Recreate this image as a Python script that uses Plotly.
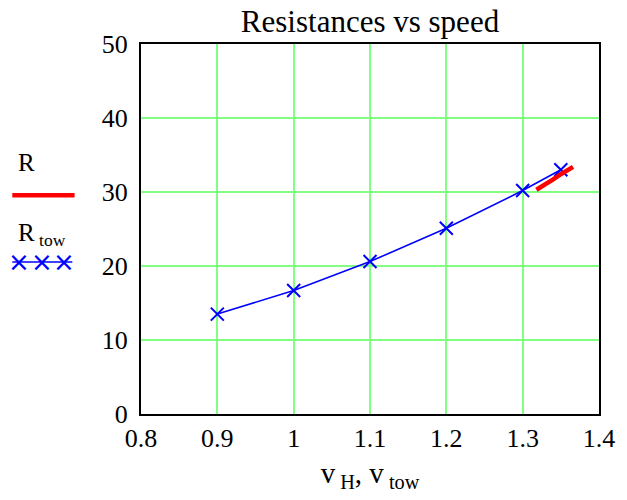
import plotly.graph_objects as go

v_tow = [0.9, 1.0, 1.1, 1.2, 1.3, 1.35]
R_tow = [13.5, 16.7, 20.6, 25.1, 30.2, 33.0]
v_H = [1.318, 1.33, 1.34, 1.35, 1.36, 1.366]
R = [30.3, 31.0, 31.7, 32.4, 33.0, 33.4]

x_ticks = [0.8, 0.9, 1.0, 1.1, 1.2, 1.3, 1.4]
x_labels = ["0.8", "0.9", "1", "1.1", "1.2", "1.3", "1.4"]
y_ticks = [0, 10, 20, 30, 40, 50]

FONT = "Liberation Serif, Times New Roman, serif"
GRID = "#80FF80"

fig = go.Figure()
fig.add_trace(go.Scatter(x=v_tow, y=R_tow, mode="lines+markers",
                         line=dict(color="#0000FF", width=1.6),
                         marker=dict(symbol="x-thin-open", size=13, line=dict(color="#0000FF", width=2)),
                         showlegend=False))
fig.add_trace(go.Scatter(x=v_H, y=R, mode="lines",
                         line=dict(color="#FF0000", width=4.5), showlegend=False))

fig.update_layout(
    width=627, height=500,
    margin=dict(l=141, r=26, t=44, b=86),
    paper_bgcolor="white", plot_bgcolor="white",
    font=dict(family=FONT, size=26, color="black"),
    title=dict(text="Resistances vs speed", x=0.5, xanchor="center", xref="paper",
               y=0.958, yanchor="middle", font=dict(size=31)),
    showlegend=False,
)
fig.update_xaxes(range=[0.8, 1.4], tickvals=x_ticks, ticktext=x_labels,
                 showgrid=True, gridcolor=GRID, gridwidth=2,
                 showline=True, linecolor="black", linewidth=2, mirror=True,
                 ticks="", zeroline=False, tickfont=dict(size=26),
                 title=dict(text="v<sub> H</sub>, v<sub> tow</sub>", font=dict(size=29), standoff=10))
fig.update_yaxes(range=[0, 50], tickvals=y_ticks,
                 showgrid=True, gridcolor=GRID, gridwidth=2,
                 showline=True, linecolor="black", linewidth=2, mirror=True,
                 ticks="", zeroline=False, tickfont=dict(size=26), ticklabelstandoff=6)

# manual legend
fig.add_annotation(x=-0.272, y=0.68, xref="paper", yref="paper", text="R",
                   showarrow=False, xanchor="left", yanchor="middle", font=dict(size=25))
fig.add_shape(type="line", xref="paper", yref="paper", x0=-0.281, x1=-0.145, y0=0.591, y1=0.591,
              line=dict(color="#FF0000", width=4.5))
fig.add_annotation(x=-0.272, y=0.485, xref="paper", yref="paper", text="R<sub> tow</sub>",
                   showarrow=False, xanchor="left", yanchor="middle", font=dict(size=25))
fig.add_shape(type="line", xref="paper", yref="paper", x0=-0.281, x1=-0.15, y0=0.411, y1=0.411,
              line=dict(color="#0000FF", width=1.6))
for xp in [-0.266, -0.217, -0.168]:
    fig.add_annotation(x=xp, y=0.411, xref="paper", yref="paper", text="\u00d7",
                       showarrow=False, xanchor="center", yanchor="middle",
                       font=dict(size=26, color="#0000FF", family="DejaVu Sans"))

fig.write_html("out.html")
